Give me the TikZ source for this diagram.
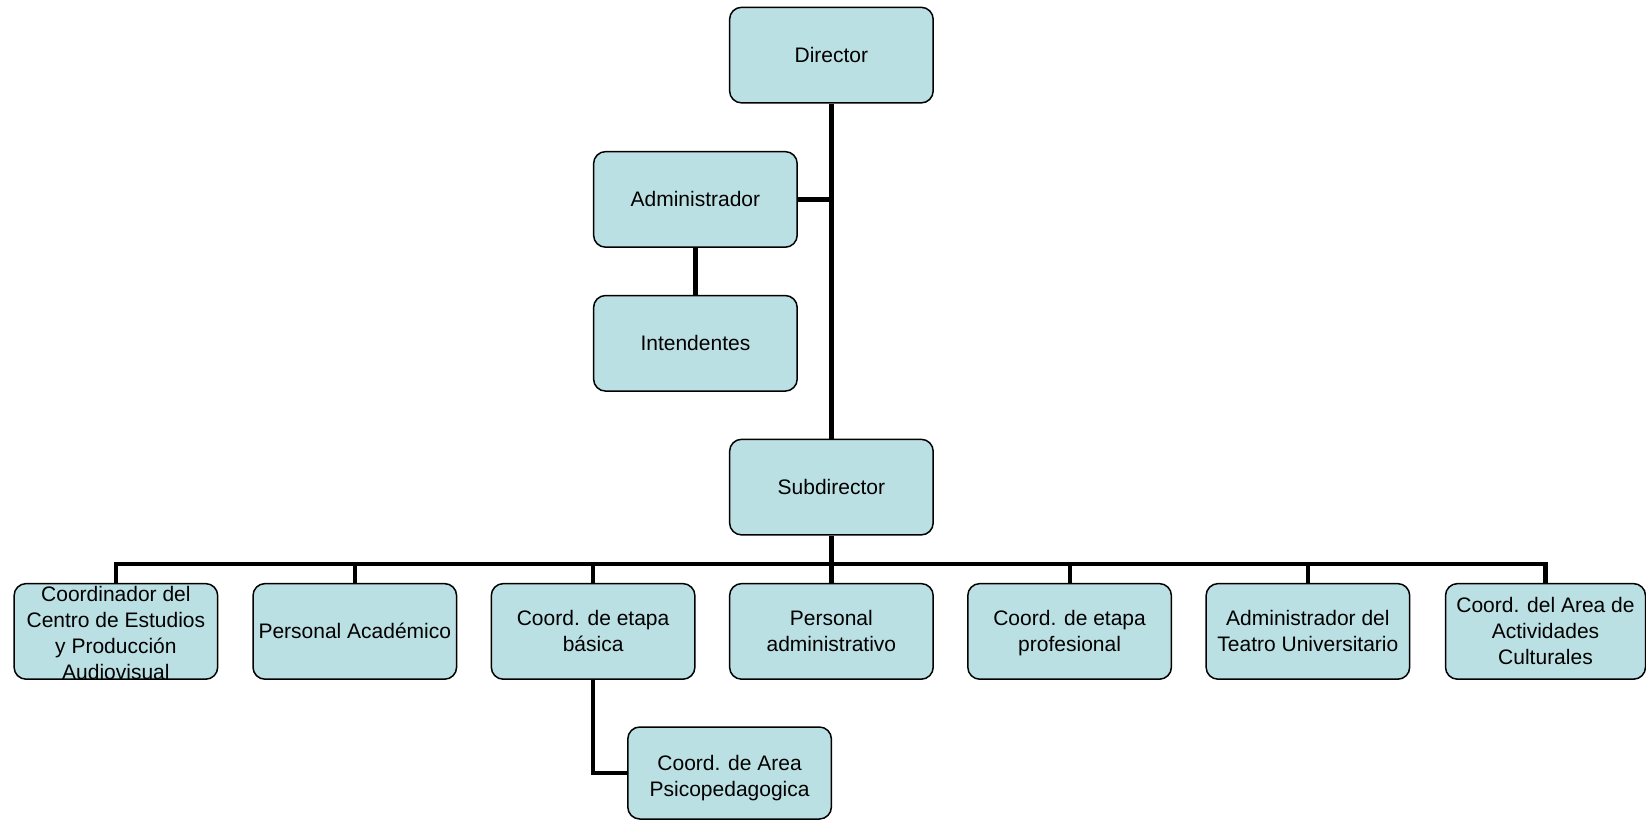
\documentclass[tikz,border=0pt]{standalone}
\usepackage{fontspec}
\setmainfont{Liberation Sans}
\definecolor{boxfill}{RGB}{187,224,227}
\newcommand\orgtxt[2][3.75pt]{\smash{\raisebox{-#1}{\begin{tabular}{@{}c@{}}#2\end{tabular}}}}
\begin{document}
\begin{tikzpicture}[x=0.5pt,y=-0.5pt,
  orgbox/.style={draw=black, line width=0.75pt, fill=boxfill, rounded corners=6pt,
    minimum width=101.8pt, minimum height=47.8pt, align=center,
    font=\fontsize{10.5}{13}\selectfont, inner sep=1pt},
  link/.style={line width=2.1pt}]
\useasboundingbox (0,0) rectangle (1646,820);
% nodes
\node[orgbox] (dir) at (831.4,55.1) {\orgtxt{Director}};
\node[orgbox] (adm) at (695.4,199.4) {\orgtxt{Administrador}};
\node[orgbox] (int) at (695.4,343.3) {\orgtxt{Intendentes}};
\node[orgbox] (sub) at (831.4,487.1) {\orgtxt{Subdirector}};
\node[orgbox] (c1) at (115.9,631.4) {\orgtxt[4.55pt]{Coordinador del\\Centro de Estudios\\y Producción\\Audiovisual}};
\node[orgbox] (c2) at (354.8,631.4) {\orgtxt{Personal Académico}};
\node[orgbox] (c3) at (593.1,631.4) {\orgtxt{Coord. de etapa\\básica}};
\node[orgbox] (c4) at (831.4,631.4) {\orgtxt{Personal\\administrativo}};
\node[orgbox] (c5) at (1069.6,631.4) {\orgtxt{Coord. de etapa\\profesional}};
\node[orgbox] (c6) at (1307.9,631.4) {\orgtxt{Administrador del\\Teatro Universitario}};
\node[orgbox, minimum width=100pt] (c7) at (1545.5,631.4) {\orgtxt{Coord. del Area de\\Actividades\\Culturales}};
\node[orgbox, minimum height=46pt] (psi) at (729.6,773) {\orgtxt[5.4pt]{Coord. de Area\\Psicopedagogica}};
% connectors
\coordinate (bus) at (0,564);
\draw[link] (dir.south) -- (sub.north);
\draw[link] (adm.east) -- (adm.east -| dir.south);
\draw[link] (adm.south) -- (int.north);
\draw[link] (sub.south) -- (sub.south |- bus);
\draw[link] (c1.north) -- (c1.north |- bus) -- (c7.north |- bus) -- (c7.north);
\foreach \c in {c2,c3,c4,c5,c6} {
  \draw[link] (\c.north) -- (\c.north |- bus);
}
\draw[link] (c3.south) |- (psi.west);
\end{tikzpicture}
\end{document}
